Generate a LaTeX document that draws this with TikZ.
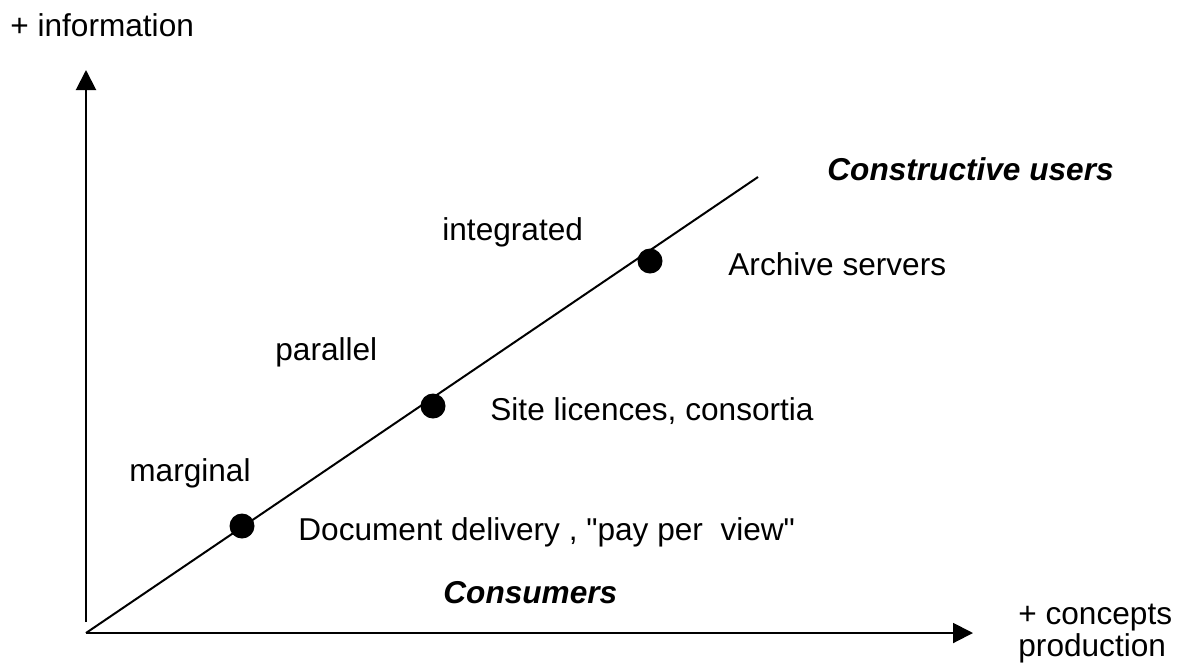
\documentclass[tikz,border=0pt]{standalone}
\usepackage{fontspec}
\setmainfont{Liberation Sans}
\usetikzlibrary{arrows.meta}
\tikzset{bd/.append style={circle,fill=black,minimum size=12.5pt,inner sep=0pt}}
\tikzset{lb/.append style={anchor=base west,inner sep=0pt,font=\fontsize{15.8}{16}\selectfont}}
\tikzset{bi/.append style={font=\fontsize{15.8}{16}\selectfont\bfseries\itshape}}
\tikzset{ax/.append style={line width=1pt,-{Triangle[length=10pt,width=10pt]}}}

\begin{document}
\begin{tikzpicture}[x=0.5pt,y=-0.5pt]
                \useasboundingbox (0,0) rectangle (1188,665);
                % axes
                \coordinate (o) at (86,633);
                \coordinate (yb) at (86,622);
                \coordinate (yt) at (86,70);
                \coordinate (xt) at (973,633);
                \coordinate (de) at (758,177);
                \draw[ax] (yb) -- (yt);
                \draw[ax] (o) -- (xt);
                \draw[line width=1pt] (o) -- (de);
                % dots
                \node[bd] (d1) at (242,526) {};
                \node[bd] (d2) at (433,406) {};
                \node[bd] (d3) at (650,261) {};
                % labels
                \node[lb] (info) at (10,36) {+ information};
                \node[lb,bi] (constr) at (827,180) {Constructive users};
                \node[lb] (integ) at (442,240) {integrated};
                \node[lb] (arch) at (728,275) {Archive servers};
                \node[lb] (paral) at (275,360) {parallel};
                \node[lb] (site) at (490,420) {Site licences, consortia};
                \node[lb] (marg) at (129,481) {marginal};
                \node[lb] (docdel) at (298,540) {Document delivery , \textquotedbl pay per \ view\textquotedbl};
                \node[lb,bi] (cons) at (443,603) {Consumers};
                \node[lb] (concpt) at (1018,624) {+ concepts};
                \node[lb] (prod) at (1018,656) {production};
            \end{tikzpicture}
\end{document}
